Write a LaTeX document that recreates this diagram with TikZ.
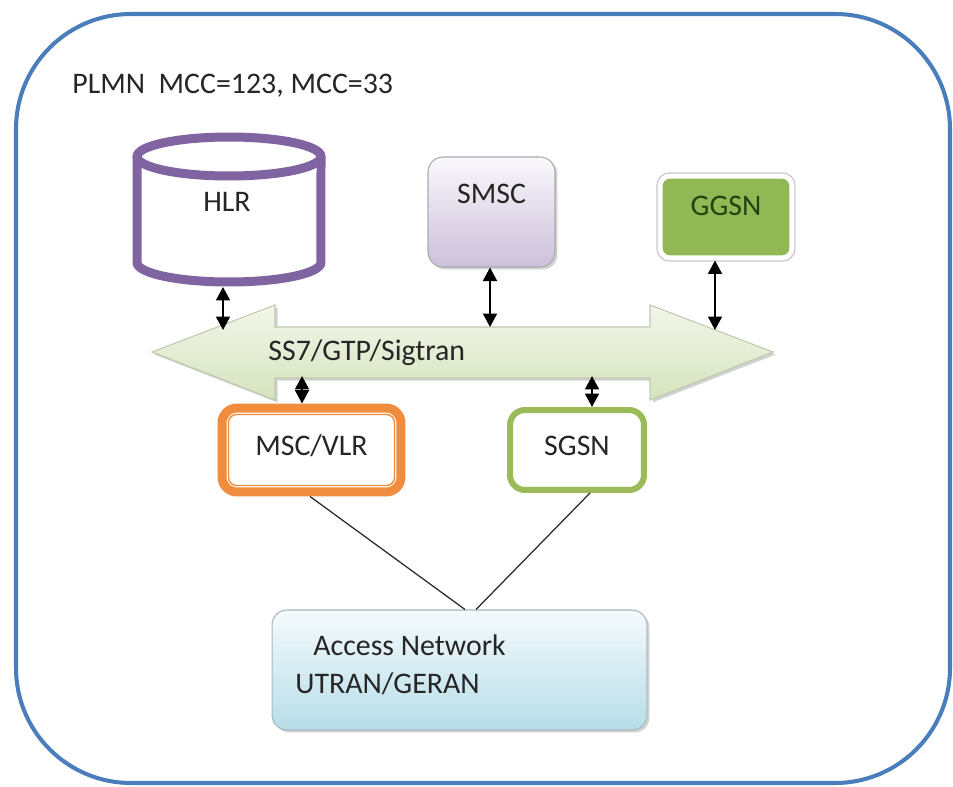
\documentclass[tikz,border=0pt]{standalone}
\usepackage{fontspec}
\setmainfont{Carlito}
\usetikzlibrary{arrows.meta, positioning, shadows}
\definecolor{cFrame}{RGB}{74, 125, 187}
\definecolor{cHLR}{RGB}{128, 100, 162}
\definecolor{cSMSCt}{RGB}{250, 248, 252}
\definecolor{cSMSCb}{RGB}{204, 192, 218}
\definecolor{bSMSC}{RGB}{170, 170, 175}
\definecolor{cGGSN}{RGB}{145, 184, 85}
\definecolor{tGGSN}{RGB}{34, 68, 14}
\definecolor{cBusT}{RGB}{242, 246, 234}
\definecolor{cBusB}{RGB}{214, 227, 190}
\definecolor{bBus}{RGB}{190, 202, 172}
\definecolor{bMSC}{RGB}{240, 140, 62}
\definecolor{bSGSN}{RGB}{155, 187, 89}
\definecolor{cAccT}{RGB}{245, 250, 252}
\definecolor{cAccB}{RGB}{183, 221, 232}
\definecolor{bAcc}{RGB}{165, 185, 192}
\definecolor{tDark}{RGB}{38, 38, 38}

\begin{document}
\begin{tikzpicture}[
    x=0.02cm, y=-0.02cm,
    font=\fontsize{17}{21}\selectfont,
    text=tDark,
    box/.style={
        rounded corners=0.3cm,
        inner sep=0pt,
        align=center
    },
    biarrow/.style={
        {Triangle[width=0.28cm, length=0.27cm]}-{Triangle[width=0.28cm, length=0.27cm]},
        line width=1.1pt, color=black
    },
    link/.style={line width=0.7pt, color=black!85},
    txt/.style={inner sep=0pt},
    softshadow/.style={drop shadow={shadow xshift=0.05cm, shadow yshift=-0.05cm, opacity=0.3, fill=black!60}}
]
\useasboundingbox (0,0) rectangle (953,787);

% PLMN frame
\draw[cFrame, line width=2.3pt, rounded corners=2.3cm] (16,14) rectangle (950,783);
\node[txt, anchor=base west] (title) at (72,94) {PLMN\ \ MCC=123, MCC=33};

% HLR database
\draw[cHLR, line width=0.18cm, fill=white] (137,156.5) -- (137,262.5)
    arc[start angle=180, end angle=360, x radius=1.84cm, y radius=0.39cm] -- (321,156.5);
\draw[cHLR, line width=0.18cm, fill=white] (229,156.5) ellipse[x radius=1.84cm, y radius=0.39cm];
\node[txt, anchor=base] (hlr) at (227,212) {HLR};
\coordinate (hlrb) at (223,287);

% SMSC and GGSN
\node[box, draw=bSMSC, line width=0.6pt, top color=cSMSCt, bottom color=cSMSCb, softshadow,
    minimum width=2.54cm, text height=0.92cm, text depth=1.28cm] (smsc) at (491.5,212) {SMSC};
\node[box, draw=white, line width=0.1cm, fill=cGGSN, text=tGGSN, softshadow, rounded corners=0.2cm,
    preaction={draw=black!22, line width=0.15cm},
    minimum width=2.64cm, text height=0.78cm, text depth=0.86cm] (ggsn) at (726,217) {GGSN};

% signalling bus
\path[draw=bBus, line width=0.6pt, top color=cBusT, bottom color=cBusB, softshadow]
    (152,352) -- (275,305) -- (275,327) -- (650,327) -- (650,305) -- (773,352)
    -- (650,400) -- (650,378) -- (275,378) -- (275,400) -- cycle;
\node[txt, anchor=base west] (bus) at (268,360) {SS7/GTP/Sigtran};
\coordinate (busA) at (223,330);
\coordinate (busB) at (490,327);
\coordinate (busC) at (715,330);
\coordinate (busD) at (302,376);
\coordinate (busE) at (592,376);

% MSC/VLR and SGSN
\node[box, draw=bMSC, line width=0.18cm, fill=white,
    minimum width=3.58cm, text height=0.94cm, text depth=0.74cm] (msc) at (311.5,450) {MSC/VLR};
\draw[bMSC, line width=0.8pt, rounded corners=0.16cm]
    ([shift={(0.22cm,-0.22cm)}]msc.north west) rectangle ([shift={(-0.22cm,0.22cm)}]msc.south east);
\node[box, draw=bSGSN, line width=0.12cm, fill=white,
    minimum width=2.68cm, text height=0.9cm, text depth=0.7cm] (sgsn) at (577,450) {SGSN};

% access network
\node[box, draw=bAcc, line width=0.6pt, top color=cAccT, bottom color=cAccB, softshadow,
    minimum width=7.5cm, minimum height=2.4cm] (acc) at (459.5,670) {};
\node[txt, anchor=base west] (acc1) at (313,655) {Access Network};
\node[txt, anchor=base west] (acc2) at (295,693) {UTRAN/GERAN};

% connections
\draw[biarrow] (hlrb) -- (busA);
\draw[biarrow] (smsc.south -| busB) -- (busB);
\draw[biarrow] (ggsn.south -| busC) -- (busC);
\draw[biarrow] (busD) -- (msc.north -| busD);
\draw[biarrow] (busE) -- (sgsn.north -| busE);
\draw[link] ([xshift=-0.03cm]msc.south) -- ([xshift=0.11cm]acc.north);
\draw[link] ([xshift=0.26cm]sgsn.south) -- ([xshift=0.33cm]acc.north);

\end{tikzpicture}
\end{document}
